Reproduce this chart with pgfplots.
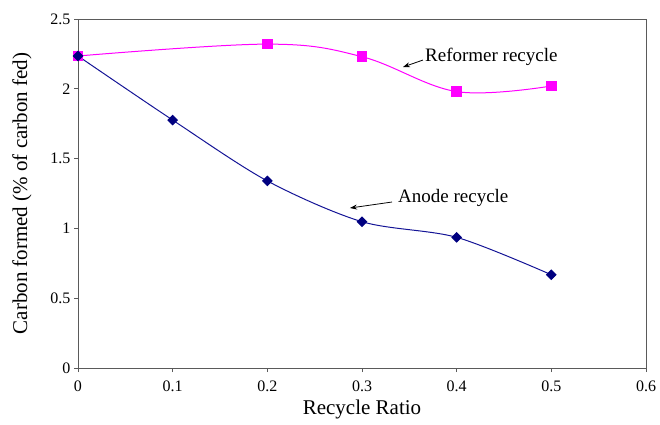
\documentclass[border=0pt]{standalone}
\usepackage{pgfplots}
\pgfplotsset{compat=1.18}
\usepackage{fontspec}
\setmainfont{Liberation Serif}
\usetikzlibrary{arrows.meta}
\definecolor{refmag}{RGB}{255,0,255}
\definecolor{anode}{RGB}{0,0,128}
\definecolor{anodeline}{RGB}{20,20,150}
\definecolor{axgray}{RGB}{90,90,90}
\begin{document}
\begin{tikzpicture}
\useasboundingbox (-78pt,-56pt) rectangle (582pt,368pt);
\begin{axis}[
  scale only axis, width=568pt, height=349pt,
  xmin=0, xmax=0.6, ymin=0, ymax=2.5,
  xtick={0,0.1,...,0.6}, ytick={0,0.5,...,2.5},
  xticklabels={0,0.1,0.2,0.3,0.4,0.5,0.6},
  yticklabels={0,0.5,1,1.5,2,2.5},
  tick pos=left, tick align=outside,
  major tick length=4pt,
  axis line style={axgray, line width=0.8pt},
  tick style={axgray, line width=0.8pt},
  every axis label/.append style={font=\fontsize{21}{23}\selectfont},
  ticklabel style={font=\fontsize{16}{18}\selectfont},
  xticklabel style={yshift=-5pt},
  /pgf/number format/assume math mode=true,
  xlabel={Recycle Ratio},
  ylabel={Carbon formed (\% of carbon fed)},
  xlabel style={yshift=-2pt},
  ylabel style={yshift=12pt},
  clip=false,
]
\addplot[refmag, line width=1pt, smooth, tension=0.6, mark=square*, mark size=4.7pt, mark options={solid, refmag}]
coordinates {(0,2.235) (0.2,2.32) (0.3,2.23) (0.4,1.98) (0.5,2.02)};
\addplot[anodeline, line width=1pt, smooth, tension=0.5, mark=square*, mark size=3.3pt, mark options={solid, anode, rotate=45}]
coordinates {(0,2.235) (0.1,1.776) (0.2,1.34) (0.3,1.048) (0.4,0.936) (0.5,0.668)};
\node[anchor=west, font=\fontsize{19}{21}\selectfont, inner sep=0pt] at (axis cs:0.3665,2.228) {Reformer recycle};
\draw[-{Stealth[length=7pt,width=5pt]}, black, line width=0.8pt] (axis cs:0.3644,2.206) -- (axis cs:0.3433,2.156);
\node[anchor=west, font=\fontsize{19}{21}\selectfont, inner sep=0pt] at (axis cs:0.338,1.218) {Anode recycle};
\draw[-{Stealth[length=7pt,width=5pt]}, black, line width=0.8pt] (axis cs:0.3317,1.189) -- (axis cs:0.2873,1.146);
\end{axis}
\end{tikzpicture}
\end{document}
